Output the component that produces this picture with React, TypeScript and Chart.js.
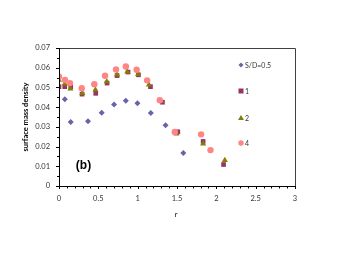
import React, { useEffect, useRef } from "react";
import { Chart, registerables } from "chart.js";

Chart.register(...registerables);

const seriesLabels = ["S/D=0.5", "1", "2", "4"];

const rSD05 = [0.074, 0.149, 0.369, 0.543, 0.70, 0.849, 0.997, 1.167, 1.355, 1.58];
const dSD05 = [0.0440, 0.0325, 0.0328, 0.0372, 0.0413, 0.0433, 0.0420, 0.0370, 0.0308, 0.0168];

const rSD1 = [0, 0.073, 0.149, 0.293, 0.467, 0.611, 0.738, 0.878, 1.01, 1.163, 1.315, 1.51, 1.832, 2.092];
const dSD1 = [0.0504, 0.0504, 0.0504, 0.0466, 0.0470, 0.0522, 0.0560, 0.0578, 0.0564, 0.0504, 0.0425, 0.0275, 0.0226, 0.0109];

const rSD2 = [0, 0.073, 0.145, 0.297, 0.463, 0.607, 0.738, 0.868, 1.005, 1.143, 1.30, 1.494, 1.832, 2.108];
const dSD2 = [0.0538, 0.0518, 0.0493, 0.0470, 0.0488, 0.0530, 0.0564, 0.0579, 0.0567, 0.0513, 0.0430, 0.0265, 0.0214, 0.0131];

const rSD4 = [0, 0.076, 0.14, 0.289, 0.449, 0.585, 0.725, 0.850, 0.987, 1.12, 1.281, 1.472, 1.806, 1.926];
const dSD4 = [0.0555, 0.0538, 0.0522, 0.0496, 0.0516, 0.0559, 0.0591, 0.0606, 0.0590, 0.0536, 0.0435, 0.0274, 0.0262, 0.0182];

const xTicks = [0, 0.5, 1, 1.5, 2, 2.5, 3];
const yTicks = [0, 0.01, 0.02, 0.03, 0.04, 0.05, 0.06, 0.07];

const colors = ["#6565A8", "#993366", "#808000", "#FF8585"];
const shapes = ["rectRot", "rect", "triangle", "circle"];
const radii = [3, 3.3, 3.5, 3.2];

const FONT = "Lato, 'Liberation Sans', sans-serif";

function zip(xs: number[], ys: number[]) {
  return xs.map((x, i) => ({ x, y: ys[i] }));
}

const decorPlugin = {
  id: "decor",
  afterDraw(chart: any) {
    const { ctx, chartArea, scales } = chart;
    const xs = scales.x;
    const ys = scales.y;
    ctx.save();
    ctx.strokeStyle = "#404040";
    ctx.lineWidth = 1;
    ctx.beginPath();
    ctx.moveTo(Math.round(chartArea.left) + 0.5, Math.round(chartArea.top) + 0.5);
    ctx.lineTo(Math.round(chartArea.right) + 0.5, Math.round(chartArea.top) + 0.5);
    ctx.lineTo(Math.round(chartArea.right) + 0.5, Math.round(chartArea.bottom) + 0.5);
    ctx.stroke();
    ctx.strokeStyle = "#000";
    ctx.beginPath();
    ctx.moveTo(Math.round(chartArea.left) + 0.5, Math.round(chartArea.top));
    ctx.lineTo(Math.round(chartArea.left) + 0.5, Math.round(chartArea.bottom) + 0.5);
    ctx.lineTo(Math.round(chartArea.right) + 0.5, Math.round(chartArea.bottom) + 0.5);
    ctx.stroke();
    ctx.beginPath();
    for (let i = 0; i <= 14; i++) {
      const v = i * 0.005;
      const py = Math.round(ys.getPixelForValue(v)) + 0.5;
      const major = i % 2 === 0;
      ctx.moveTo(chartArea.left - (major ? 3 : 2), py);
      ctx.lineTo(chartArea.left + (major ? 0 : 1), py);
    }
    for (let i = 0; i <= 30; i++) {
      const v = i * 0.1;
      const px = Math.round(xs.getPixelForValue(v)) + 0.5;
      const major = i % 5 === 0;
      ctx.moveTo(px, chartArea.bottom);
      ctx.lineTo(px, chartArea.bottom + (major ? 3 : 2.5));
    }
    ctx.stroke();
    ctx.fillStyle = "#000";
    ctx.font = "bold 7.5px " + FONT;
    ctx.textAlign = "center";
    ctx.textBaseline = "middle";
    ctx.save();
    ctx.translate(25.5, (chartArea.top + chartArea.bottom) / 2);
    ctx.rotate(-Math.PI / 2);
    ctx.fillText("surface mass density", 0, 0);
    ctx.restore();
    ctx.font = "7.5px " + FONT;
    ctx.fillText("r", (chartArea.left + chartArea.right) / 2 - 1, 215);
    ctx.font = "bold 12px 'Liberation Sans', sans-serif";
    ctx.fillText("(b)", 83.5, 165.5);
    const legY = [65, 91, 118, 143];
    ctx.font = "7px " + FONT;
    ctx.textAlign = "left";
    for (let i = 0; i < 4; i++) {
      ctx.fillStyle = colors[i];
      const x = 241;
      const y = legY[i];
      ctx.beginPath();
      if (shapes[i] === "rectRot") {
        const r = 2.5;
        ctx.moveTo(x, y - r);
        ctx.lineTo(x + r, y);
        ctx.lineTo(x, y + r);
        ctx.lineTo(x - r, y);
        ctx.closePath();
      } else if (shapes[i] === "rect") {
        ctx.rect(x - 2.5, y - 2.5, 5, 5);
      } else if (shapes[i] === "triangle") {
        ctx.moveTo(x, y - 3);
        ctx.lineTo(x + 3, y + 2);
        ctx.lineTo(x - 3, y + 2);
        ctx.closePath();
      } else {
        ctx.arc(x, y, 2.7, 0, Math.PI * 2);
      }
      ctx.fill();
      ctx.fillStyle = "#333";
      ctx.fillText(seriesLabels[i], 245, y + 0.5);
    }
    ctx.restore();
  },
};

export default function App() {
  const ref = useRef<HTMLCanvasElement>(null);
  useEffect(() => {
    if (!ref.current) return;
    const data = [zip(rSD05, dSD05), zip(rSD1, dSD1), zip(rSD2, dSD2), zip(rSD4, dSD4)];
    const order = [0, 3, 2, 1];
    const chart = new Chart(ref.current, {
      type: "scatter",
      data: {
        datasets: order.map((i) => ({
          label: seriesLabels[i],
          data: data[i],
          pointStyle: shapes[i] as any,
          pointRadius: radii[i],
          pointBackgroundColor: colors[i],
          pointBorderColor: colors[i],
          pointBorderWidth: 0,
          showLine: false,
        })),
      },
      options: {
        responsive: false,
        animation: false,
        devicePixelRatio: 1,
        layout: { padding: { left: 0, top: 48, right: 45, bottom: 0 } },
        plugins: { legend: { display: false }, tooltip: { enabled: false } },
        scales: {
          x: {
            type: "linear",
            min: 0,
            max: 3,
            afterBuildTicks: (s: any) => {
              s.ticks = xTicks.map((v) => ({ value: v }));
            },
            afterFit: (s: any) => {
              s.height = 69;
            },
            grid: { display: false, drawTicks: false },
            border: { display: false },
            ticks: {
              padding: 8,
              color: "#333",
              font: { family: FONT, size: 7.5 },
              maxRotation: 0,
              callback: (v: any) => String(v),
            },
          },
          y: {
            type: "linear",
            min: 0,
            max: 0.07,
            afterBuildTicks: (s: any) => {
              s.ticks = yTicks.map((v) => ({ value: v }));
            },
            afterFit: (s: any) => {
              s.width = 59;
            },
            grid: { display: false, drawTicks: false },
            border: { display: false },
            ticks: {
              padding: 9,
              color: "#333",
              font: { family: FONT, size: 7.5 },
              callback: (v: any) => (v === 0 ? "0" : Number(v).toFixed(2)),
            },
          },
        },
      },
      plugins: [decorPlugin],
    });
    return () => chart.destroy();
  }, []);
  return (
    <div style={{ position: "fixed", left: 0, top: 0, width: 340, height: 255, background: "#fff" }}>
      <canvas ref={ref} width={340} height={255} style={{ width: 340, height: 255, display: "block" }} />
    </div>
  );
}
